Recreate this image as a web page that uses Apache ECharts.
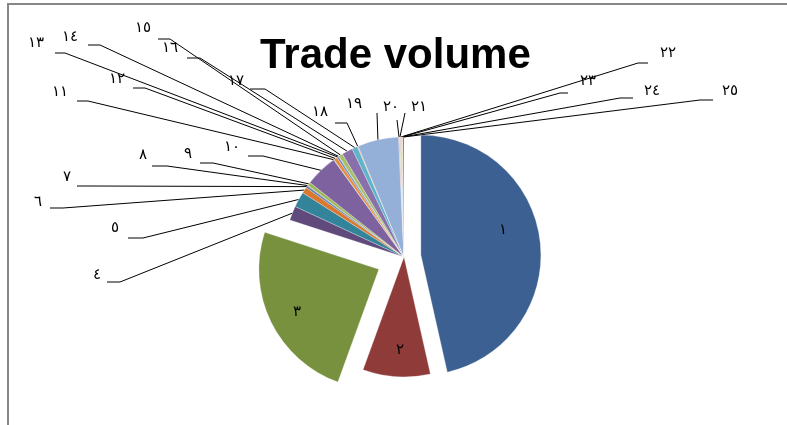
<!DOCTYPE html>
<html><head><meta charset="utf-8">
<script src="https://cdn.jsdelivr.net/npm/echarts@6/dist/echarts.min.js"></script>
<style>html,body{margin:0;padding:0;background:#fff}#c{width:787px;height:425px}</style>
</head><body><div id="c"></div>
<script>
// ---- data ----
const categories = ['١','٢','٣','٤','٥','٦','٧','٨','٩','١٠','١١','١٢','١٣','١٤','١٥','١٦','١٧','١٨','١٩','٢٠','٢١','٢٢','٢٣','٢٤','٢٥'];
const values = [46.47, 9.08, 24.44, 1.94, 2.08, 0.83, 0.28, 0.08, 0.47, 4.36, 0.06, 0.47, 0.25, 0.06, 0.56, 1.47, 0.75, 0.11, 5.53, 0.12, 0.12, 0.12, 0.12, 0.12, 0.12];
const titleText = 'Trade volume';

// ---- styles / layout ----
const colors = ['#3B6091','#8E3B39','#77913F','#5F4A7B','#33849B','#D9782E',
                '#4F81BD','#C0504D','#9BBB59','#7E62A0','#4BACC6','#EB8A3C',
                '#5A8AC6','#C9615E','#A5C26A','#8A70AB','#5DB4CC','#F8A263',
                '#95B0D8','#D99694','#C3D69B','#B3A2C7','#93CDDD','#FAC090','#254061'];
const CX = 404, CY = 257, R = 120;
const explodePx = {0: 17, 2: 28};
// label placement: [x, y, leaderX1, leaderY, leaderX2]
const labelPlace = {
  0:[503,230], 1:[400,350], 2:[297,312],
  3:[97,275,120,282,107], 4:[115,228,143,238,128], 5:[38,202,63,208,50],
  6:[67,177,90,186,77], 7:[143,155,167,166,152], 8:[188,154,213,163,200],
  9:[232,147,263,156,248], 10:[60,92,88,101,77], 11:[117,79,145,88,133],
  12:[36,43,65,53,55], 13:[70,37,100,45,88], 14:[143,28,170,39,158],
  15:[170,48,200,58,187], 16:[236,81,265,89,250], 17:[320,112,347,123,335],
  18:[354,104,377,113,377], 19:[391,107,397,120,397], 20:[419,107,405,113,405],
  21:[668,53,638,63,648], 22:[588,81,560,93,568], 23:[652,91,620,98,633], 24:[730,91,700,100,713]
};

const total = values.reduce((a,b)=>a+b,0);
function midAngle(i){ // clockwise from 12 o'clock, radians
  let s = 0; for (let k=0;k<i;k++) s += values[k];
  return (s + values[i]/2) / total * Math.PI * 2;
}
function centerFor(i){
  const d = explodePx[i] || 0, a = midAngle(i);
  return [CX + d*Math.sin(a), CY - d*Math.cos(a)];
}

const labelFont = {fontFamily:'DejaVu Sans', fontSize:15, color:'#000'};

function makeSeries(visible, center){
  return {
    type:'pie', radius:R, center:center, startAngle:90, clockwise:true,
    silent:true, animation:false, avoidLabelOverlap:false,
    label:Object.assign({show:true, position:'outside'}, labelFont),
    labelLine:{show:true, lineStyle:{color:'#000', width:1}},
    emphasis:{disabled:true},
    data: categories.map((name,i)=>{
      const v = visible(i);
      const inside = i <= 2;
      return {
        name, value: values[i],
        itemStyle:{color:colors[i], opacity: v?1:0, borderColor:'rgba(255,255,255,0.55)', borderWidth: v?0.5:0},
        label:{show:v, position: inside?'inside':'outside'},
        labelLine:{show: v && !inside}
      };
    }),
    labelLayout: function(p){
      const L = labelPlace[p.dataIndex];
      if (!L) return {};
      const out = {x:L[0], y:L[1], align:'center', verticalAlign:'middle'};
      if (L.length > 2 && p.labelLinePoints) {
        const a = p.labelLinePoints[0];
        out.labelLinePoints = [[a[0],a[1]],[L[2],L[3]],[L[4],L[3]]];
      }
      return out;
    }
  };
}

const chart = echarts.init(document.getElementById('c'), null, {renderer:'canvas'});
chart.setOption({
  backgroundColor:'#fff',
  animation:false,
  title:{text:titleText, left:260, top:35, padding:0,
    textStyle:{fontFamily:'Liberation Sans', fontWeight:'bold', fontSize:42, color:'#000'}},
  graphic:[{type:'rect', shape:{x:8,y:4,width:820,height:460},
    style:{fill:'none', stroke:'#878787', lineWidth:2}, silent:true}],
  series:[
    makeSeries(i => i!==0 && i!==2, [CX, CY]),
    makeSeries(i => i===0, centerFor(0)),
    makeSeries(i => i===2, centerFor(2))
  ]
});
</script></body></html>
